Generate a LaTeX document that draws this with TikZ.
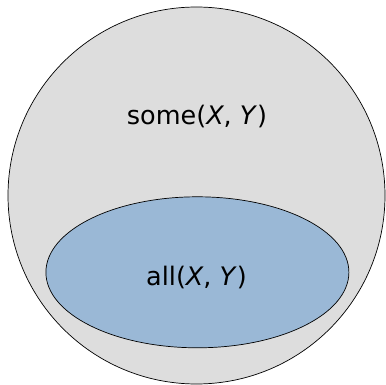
\documentclass[tikz,border=0pt]{standalone}
\usepackage{fontspec}
\setmainfont{DejaVu Sans}
\usetikzlibrary{shapes.geometric}
\definecolor{setgray}{RGB}{221,221,221}
\definecolor{setblue}{RGB}{154,184,214}
\tikzset{
    % Venn sets
    outerset/.style={circle, draw=black, fill=setgray, line width=0.7pt,
                minimum size=377pt, inner sep=0pt},
    innerset/.style={ellipse, draw=black, fill=setblue, line width=0.7pt,
                minimum width=303pt, minimum height=151pt, inner sep=0pt},
    setlbl/.style={font=\fontsize{25.5}{30}\selectfont, inner sep=0pt, anchor=base},
}
\begin{document}
\begin{tikzpicture}[x=1pt, y=-1pt]
\useasboundingbox (0,0) rectangle (386,385);
\node[outerset] (some) at (196.5,195.5) {};
\node[innerset] (all)  at (197.4,272.3) {};

\node[setlbl] (somelbl) at (197,125) {some(\textit{X}, \textit{Y})};
\node[setlbl] (alllbl)  at (196.5,285) {all(\textit{X}, \textit{Y})};
\end{tikzpicture}
\end{document}
